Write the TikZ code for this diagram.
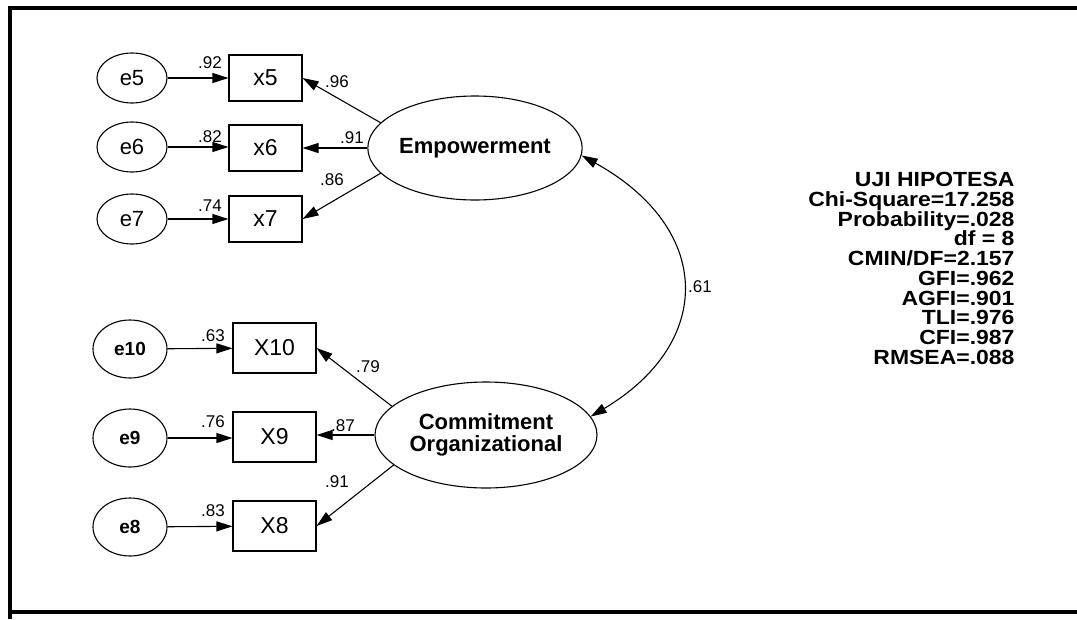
\documentclass[tikz,border=0pt]{standalone}
\usepackage{fontspec}
\setmainfont{Liberation Sans}
\newfontfamily\statsfont[FakeStretch=1.12]{Liberation Sans}
\usetikzlibrary{shapes.geometric,arrows.meta}
\begin{document}
\begin{tikzpicture}[x=1pt,y=-1pt,
  line width=1.1pt,
  tip/.style={-{Triangle[length=16pt,width=10pt]}},
  dtip/.style={{Triangle[length=16pt,width=10pt]}-{Triangle[length=16pt,width=10pt]}},
  erru/.style={draw,ellipse,inner sep=0pt,minimum width=70pt,minimum height=50pt,font=\fontsize{22}{26}\selectfont},
  errl/.style={draw,ellipse,inner sep=0pt,minimum width=74pt,minimum height=58pt,font=\fontsize{19}{22}\selectfont\bfseries},
  obsu/.style={draw,rectangle,inner sep=0pt,minimum width=73pt,minimum height=46pt,font=\fontsize{23}{27}\selectfont},
  obsl/.style={draw,rectangle,inner sep=0pt,minimum width=83pt,minimum height=50pt,font=\fontsize{23}{27}\selectfont},
  lat/.style={draw,ellipse,inner sep=0pt,align=center,font=\fontsize{22}{22}\selectfont\bfseries},
  lbl/.style={inner sep=0pt,font=\fontsize{17}{20}\selectfont},
  frame/.style={line width=4pt}
]
\useasboundingbox (0,0) rectangle (1077,619);
% frame
\draw[frame] (1077,8) -- (10,8) -- (10,619);
\draw[frame] (10,612) -- (1077,612);

% upper block
\node[erru] (e5) at (132,78) {e5};
\node[erru] (e6) at (132,147) {e6};
\node[erru] (e7) at (132,219) {e7};
\node[obsu] (x5) at (265.5,78) {x5};
\node[obsu] (x6) at (265.5,148) {x6};
\node[obsu] (x7) at (265.5,219) {x7};
\node[lat,minimum width=214pt,minimum height=104pt] (emp) at (475,148) {Empowerment};

% lower block
\node[errl] (e10) at (130,349) {e10};
\node[errl] (e9) at (130,438) {e9};
\node[errl] (e8) at (130,527) {e8};
\node[obsl] (x10) at (274.5,348) {X10};
\node[obsl] (x9) at (274.5,437) {X9};
\node[obsl] (x8) at (274.5,526) {X8};
\node[lat,minimum width=222pt,minimum height=106pt] (com) at (486,435) {Commitment\\Organizational};

% error arrows
\draw[tip] (e5) -- (x5);
\draw[tip] (e6.east) -- (e6.east -| x6.west);
\draw[tip] (e7) -- (x7);
\draw[tip] (e10) -- (x10);
\draw[tip] (e9.east) -- (e9.east -| x9.west);
\draw[tip] (e8) -- (x8);

% loadings
\draw[tip] (emp.165) -- (x5.east);
\draw[tip] (emp.west) -- (emp.west -| x6.east);
\draw[tip] (emp.195) -- (x7.east);
\draw[tip] (com.163) -- (x10.east);
\draw[tip] (com.west) -- (com.west -| x9.east);
\draw[tip] (com.198) -- (x8.east);

% covariance
\coordinate (k1) at (714,229);
\coordinate (k2) at (714,343);
\draw[dtip] (emp.-4) .. controls (k1) and (k2) .. (com.10);

% labels
\node[lbl] (l92) at (210,63) {.92};
\node[lbl] (l96) at (337,82) {.96};
\node[lbl] (l82) at (210,137) {.82};
\node[lbl] (l91a) at (352,138) {.91};
\node[lbl] (l86) at (332,180) {.86};
\node[lbl] (l74) at (210,206) {.74};
\node[lbl] (l63) at (213,336) {.63};
\node[lbl] (l79) at (368,367) {.79};
\node[lbl] (l76) at (213,422) {.76};
\node[lbl] (l87) at (343,426) {.87};
\node[lbl] (l91b) at (337,482) {.91};
\node[lbl] (l83) at (213,511) {.83};
\node[lbl] (l61) at (700,287) {.61};

% fit statistics
\node[inner sep=0pt,anchor=north east,align=right,font=\statsfont\fontsize{20.5}{19.7}\selectfont\bfseries] (stats) at (1015,172)
{UJI HIPOTESA\\Chi-Square=17.258\\Probability=.028\\df = 8\\CMIN/DF=2.157\\GFI=.962\\AGFI=.901\\TLI=.976\\CFI=.987\\RMSEA=.088};
\end{tikzpicture}
\end{document}
